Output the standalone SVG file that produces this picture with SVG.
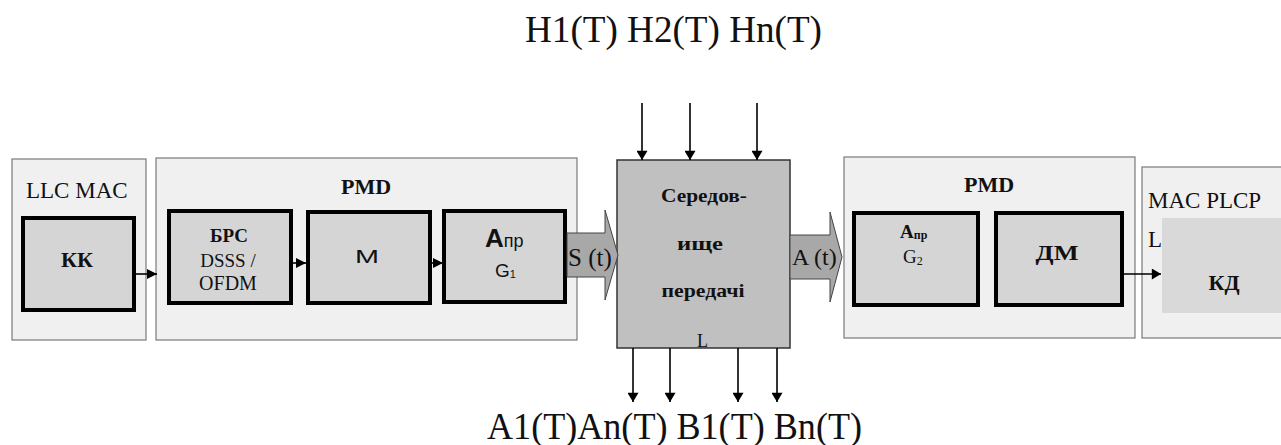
<svg xmlns="http://www.w3.org/2000/svg" width="1281" height="445" viewBox="0 0 1281 445">
<defs>
<style>
.outer{fill:#f0f0f0;stroke:#7a7a7a;stroke-width:1.2}
.inner{fill:#d5d5d5;stroke:#000;stroke-width:4}
.ser{fill:#111}
.serb{font-weight:bold;fill:#111}
.sans{fill:#111}
.ln{stroke:#000;stroke-width:1.6;fill:none}
.blk{fill:#a8a8a8;stroke:#444;stroke-width:1}
</style>
<marker id="ah" viewBox="0 0 10 10" refX="10" refY="5" markerWidth="10" markerHeight="10" markerUnits="userSpaceOnUse" orient="auto">
<path d="M0,0 L10,5 L0,10 Z" fill="#000"/>
</marker>
<marker id="ahv" viewBox="0 0 10 12" refX="10" refY="6" markerWidth="13" markerHeight="11" markerUnits="userSpaceOnUse" orient="auto">
<path d="M0,0 L10,6 L0,12 Z" fill="#000"/>
</marker>
</defs>
<rect width="1281" height="445" fill="#fff"/>

<g font-family="'Liberation Serif', 'DejaVu Serif', serif">
<text class="ser" x="525" y="42" font-size="37" textLength="297" lengthAdjust="spacingAndGlyphs">H1(T) H2(T) Hn(T)</text>
<text class="ser" x="487" y="439" font-size="37" textLength="375" lengthAdjust="spacingAndGlyphs">A1(T)An(T) B1(T) Bn(T)</text>

<g id="llcmac">
<rect class="outer" x="12" y="159" width="134" height="181"/>
<text class="ser" x="26" y="198" font-size="23">LLC MAC</text>
</g>
<g id="kk">
<rect class="inner" x="23" y="218" width="111" height="92"/>
<text class="serb" x="77" y="267" font-size="22" text-anchor="middle">КК</text>
</g>

<g id="pmd-left">
<rect class="outer" x="156" y="158" width="421" height="182"/>
<text class="serb" x="366" y="194" font-size="22" text-anchor="middle">PMD</text>
</g>
<g id="brs">
<rect class="inner" x="169" y="211" width="122" height="92"/>
<text class="serb" x="229" y="242" font-size="19" text-anchor="middle">БРС</text>
<text class="ser" x="228" y="267" font-size="19" text-anchor="middle">DSSS /</text>
<text class="ser" x="228" y="290" font-size="20" text-anchor="middle">OFDM</text>
</g>
<g id="m">
<rect class="inner" x="308" y="212" width="122" height="91"/>
<text class="sans" font-family="'Liberation Sans', Arial, sans-serif" x="355" y="263" font-size="19" textLength="24" lengthAdjust="spacingAndGlyphs">M</text>
</g>
<g id="apr1">
<rect class="inner" x="444" y="211" width="121" height="91"/>
<text class="sans" font-family="'Liberation Sans', Arial, sans-serif" x="485" y="247"><tspan font-size="26" font-weight="bold">A</tspan><tspan font-size="18">пр</tspan></text>
<text class="sans" font-family="'Liberation Sans', Arial, sans-serif" x="495" y="277"><tspan font-size="19">G</tspan><tspan font-size="11" dy="1">1</tspan></text>
</g>

<g id="medium">
<rect x="617" y="160" width="173" height="188" fill="#c0c0c0" stroke="#333" stroke-width="1.5"/>
<text class="serb" x="704" y="202" font-size="19" text-anchor="middle" textLength="86" lengthAdjust="spacingAndGlyphs">Середов-</text>
<text class="serb" x="700" y="250" font-size="19" text-anchor="middle" textLength="46" lengthAdjust="spacingAndGlyphs">ище</text>
<text class="serb" x="703" y="297" font-size="19" text-anchor="middle" textLength="83" lengthAdjust="spacingAndGlyphs">передачі</text>
<text class="ser" x="697" y="347" font-size="18">L</text>
</g>

<g id="pmd-right">
<rect class="outer" x="844" y="157" width="291" height="181"/>
<text class="serb" x="989" y="192" font-size="22" text-anchor="middle">PMD</text>
</g>
<g id="apr2">
<rect class="inner" x="854" y="213" width="124" height="92"/>
<text class="serb" x="900" y="238"><tspan font-size="19">A</tspan><tspan font-size="12" dy="1">пр</tspan></text>
<text class="ser" x="903" y="263"><tspan font-size="19">G</tspan><tspan font-size="12" dy="2">2</tspan></text>
</g>
<g id="dm">
<rect class="inner" x="996" y="213" width="126" height="92"/>
<text class="serb" x="1057" y="260" font-size="22" text-anchor="middle" textLength="43" lengthAdjust="spacingAndGlyphs">ДМ</text>
</g>

<g id="macplcp">
<rect class="outer" x="1142" y="167" width="150" height="171"/>
<text class="ser" x="1148" y="208" font-size="23">MAC PLCP</text>
<text class="ser" x="1148" y="247" font-size="23">L</text>
</g>
<g id="kd">
<rect x="1162" y="218" width="119" height="95" fill="#d9d9d9"/>
<text class="serb" x="1224" y="290" font-size="22" text-anchor="middle">КД</text>
</g>

<g id="connectors">
<line class="ln" x1="136" y1="274" x2="157" y2="274" marker-end="url(#ah)"/>
<line class="ln" x1="293" y1="263" x2="306" y2="263" marker-end="url(#ah)"/>
<line class="ln" x1="432" y1="263" x2="443" y2="263" marker-end="url(#ah)"/>
<line class="ln" x1="1124" y1="274" x2="1161" y2="274" marker-end="url(#ahv)"/>
<line class="ln" x1="642" y1="103" x2="642" y2="160" marker-end="url(#ahv)"/>
<line class="ln" x1="690" y1="103" x2="690" y2="160" marker-end="url(#ahv)"/>
<line class="ln" x1="757" y1="103" x2="757" y2="160" marker-end="url(#ahv)"/>
<line class="ln" x1="633" y1="348" x2="633" y2="402" marker-end="url(#ahv)"/>
<line class="ln" x1="670" y1="348" x2="670" y2="402" marker-end="url(#ahv)"/>
<line class="ln" x1="738" y1="348" x2="738" y2="402" marker-end="url(#ahv)"/>
<line class="ln" x1="777" y1="348" x2="777" y2="402" marker-end="url(#ahv)"/>
<polygon class="blk" points="567,233 605,233 605,210 618,255 605,300 605,277 567,277"/>
<text class="ser" x="568" y="266" font-size="25">S (t)</text>
<polygon class="blk" points="790,235 830,235 830,212 842,257 830,302 830,279 790,279"/>
<text class="ser" x="792" y="265" font-size="24">A (t)</text>
</g>
</g>
</svg>
